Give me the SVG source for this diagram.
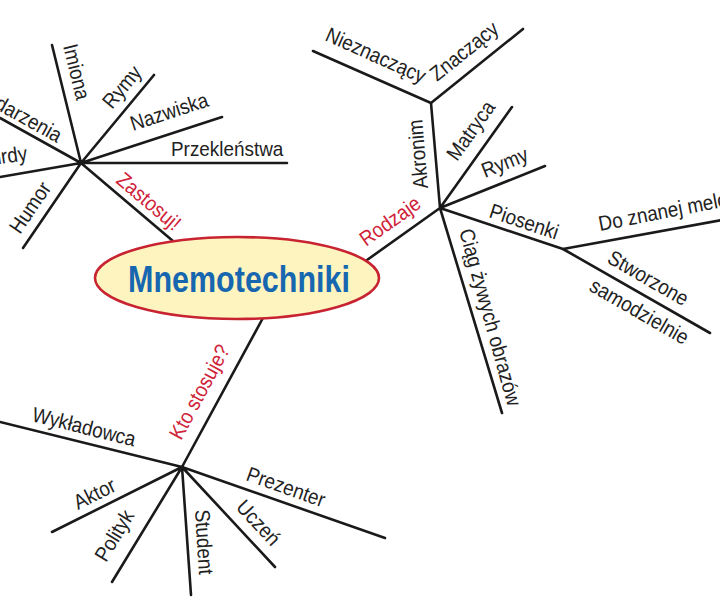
<svg xmlns="http://www.w3.org/2000/svg" width="720" height="600" viewBox="0 0 720 600">
<style>
.ln{stroke:#1a1a1a;stroke-width:2.6;stroke-linecap:round;fill:none}
.t{font-family:"Liberation Sans",Arial,sans-serif;font-size:21px;fill:#222}
.r{fill:#d02238}
.end{text-anchor:end}
</style>
<rect width="720" height="600" fill="#ffffff"/>
<g id="connectors">
<path class="ln" d="M81,163L52,45M81,163L154,75M81,163L222,117M81,163L287,163M81,163L0,118M81,163L0,177M81,163L23,248M81,163L180,247"/>
<path class="ln" d="M440,208L360,265M440,208L431,103M440,208L512,107M440,208L545,166M440,208L563,249M440,208L502,413"/>
<path class="ln" d="M431,103L313,51M431,103L523,29"/>
<path class="ln" d="M563,249L722,220M563,249L710,333"/>
<path class="ln" d="M182,467L264,316M182,467L0,422M182,467L385,538M182,467L52,532M182,467L112,582M182,467L191,595M182,467L275,567"/>
</g>
<g id="center">
<ellipse cx="237" cy="278" rx="142" ry="41" fill="#fdf4c0" stroke="#c82330" stroke-width="2.6"/>
<text x="128" y="292" textLength="222" lengthAdjust="spacingAndGlyphs" font-family="'Liberation Sans',Arial,sans-serif" font-weight="bold" font-size="37" fill="#1766b0">Mnemotechniki</text>
</g>
<g id="zastosuj"><text class="t r" transform="translate(115,182) rotate(40.3) scale(0.9,1)">Zastosuj!</text></g>
<g id="imiona"><text class="t" transform="translate(63,46) rotate(76.2) scale(0.9,1)">Imiona</text></g>
<g id="rymy1"><text class="t" transform="translate(112,110) rotate(-50.3) scale(0.9,1)">Rymy</text></g>
<g id="nazwiska"><text class="t" transform="translate(133,131) rotate(-18.1) scale(0.9,1)">Nazwiska</text></g>
<g id="przeklenstwa"><text class="t" transform="translate(171,156) scale(0.9,1)">Przekleństwa</text></g>
<g id="wydarzenia"><text class="t end" transform="translate(57,143) rotate(29) scale(0.9,1)">Wydarzenia</text></g>
<g id="absurdy"><text class="t end" transform="translate(28,160) rotate(-8.4) scale(0.9,1)">Absurdy</text></g>
<g id="humor"><text class="t" transform="translate(20,235) rotate(-55.7) scale(0.9,1)">Humor</text></g>
<g id="rodzaje"><text class="t r" transform="translate(366,247) rotate(-35.5) scale(0.9,1)">Rodzaje</text></g>
<g id="akronim"><text class="t" transform="translate(428,188) rotate(-94.9) scale(0.9,1)">Akronim</text></g>
<g id="nieznaczacy"><text class="t" transform="translate(324,40) rotate(24) scale(0.9,1)">Nieznaczący</text></g>
<g id="znaczacy"><text class="t" transform="translate(437,82) rotate(-38.8) scale(0.9,1)">Znaczący</text></g>
<g id="matryca"><text class="t" transform="translate(457,162) rotate(-54.5) scale(0.9,1)">Matryca</text></g>
<g id="rymy2"><text class="t" transform="translate(485,178) rotate(-21.8) scale(0.9,1)">Rymy</text></g>
<g id="piosenki"><text class="t" transform="translate(488,217) rotate(18.4) scale(0.9,1)">Piosenki</text></g>
<g id="melodii"><text class="t" transform="translate(600,231) rotate(-11) scale(0.9,1)">Do znanej melodii</text></g>
<g id="stworzone"><text class="t" transform="translate(606,262) rotate(30) scale(0.9,1)">Stworzone</text><text class="t" transform="translate(588,290) rotate(30) scale(0.9,1)">samodzielnie</text></g>
<g id="ciag"><text class="t" transform="translate(459,231) rotate(74.5) scale(0.9,1)">Ciąg żywych obrazów</text></g>
<g id="kto"><text class="t r" transform="translate(181,441) rotate(-61.6) scale(0.9,1)">Kto stosuje?</text></g>
<g id="wykladowca"><text class="t" transform="translate(31,421) rotate(14) scale(0.9,1)">Wykładowca</text></g>
<g id="prezenter"><text class="t" transform="translate(245,480) rotate(19.5) scale(0.9,1)">Prezenter</text></g>
<g id="aktor"><text class="t" transform="translate(78,510) rotate(-26.6) scale(0.9,1)">Aktor</text></g>
<g id="polityk"><text class="t" transform="translate(106,563) rotate(-58.7) scale(0.9,1)">Polityk</text></g>
<g id="student"><text class="t" transform="translate(195,510) rotate(86.5) scale(0.9,1)">Student</text></g>
<g id="uczen"><text class="t" transform="translate(235,508) rotate(47) scale(0.9,1)">Uczeń</text></g>
</svg>
